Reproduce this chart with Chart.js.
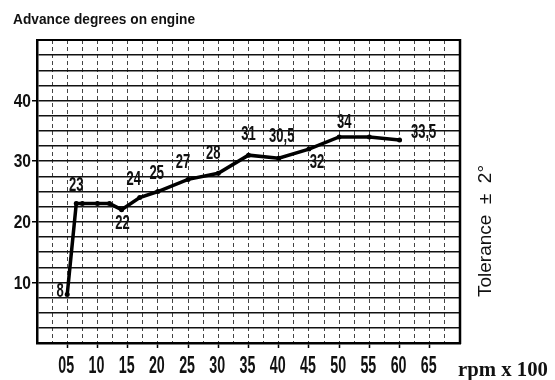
<!DOCTYPE html>
<html>
<head>
<meta charset="utf-8">
<title>Advance degrees on engine</title>
<script src="https://cdn.jsdelivr.net/npm/chart.js@4/dist/chart.umd.min.js"></script>
<style>
  html, body { margin: 0; padding: 0; background: #fff; }
  canvas { display: block; }
</style>
</head>
<body>
<canvas id="advance-chart" width="555" height="380"></canvas>
<script>
// engine speed (rpm x 100) and ignition advance in degrees
var rpm = [5, 6.5, 7.5, 10, 12, 14, 17, 20, 25, 30, 35, 40, 45, 50, 55, 60];
var degrees = [8, 23, 23, 23, 23, 22, 24, 25, 27, 28, 31, 30.5, 32, 34, 34, 33.5];
// points that have their value printed next to them
var printed = [true, true, false, false, false, true, true, true, true, true, true, true, true, true, false, true];
var rpmTicks = [5, 10, 15, 20, 25, 30, 35, 40, 45, 50, 55, 60, 65];
var degreeTicks = [10, 20, 30, 40];

var sans = '"Liberation Sans", Arial, sans-serif';

// where each printed value sits relative to its point (px)
var labelShift = [
    [-7, -3], [0, -18], [1, 14], [-6, -18], [-1, -18], [-5, -17],
    [-5, -20], [0, -21], [3, -22], [8, 13], [5, -15], [24, -8]
];

function formatDeg(v) {
    return String(v).replace(".", ",");
}

function rpmLabel(v) {
    return v < 10 ? "0" + v : String(v);
}

// the print uses a very condensed face, so squeeze text horizontally
function squeeze(ctx, text, x, y, sx) {
    ctx.save();
    ctx.translate(x, y);
    ctx.scale(sx, 1);
    ctx.fillText(text, 0, 0);
    ctx.restore();
}

function fitWidth(ctx, text, x, y, width) {
    squeeze(ctx, text, x, y, width / ctx.measureText(text).width);
}

var context = document.getElementById("advance-chart").getContext("2d");

var frame = {
    id: "frame",
    beforeDatasetsDraw: function (chart) {
        var ctx = chart.ctx;
        var a = chart.chartArea;
        ctx.save();
        ctx.strokeStyle = "#000";
        ctx.lineWidth = 2;
        ctx.beginPath();
        ctx.moveTo(a.left, a.top);
        ctx.lineTo(a.right, a.top);
        ctx.stroke();
        ctx.lineWidth = 2.5;
        ctx.beginPath();
        ctx.moveTo(a.right, a.top - 1);
        ctx.lineTo(a.right, a.bottom + 1);
        ctx.stroke();
        ctx.restore();
    },
};

var annotations = {
    id: "annotations",
    afterDatasetsDraw: function (chart) {
        var ctx = chart.ctx;
        var meta = chart.getDatasetMeta(0);
        var xs = chart.scales.x;
        var ys = chart.scales.y;
        var k = 0;

        ctx.save();
        ctx.fillStyle = "#111";
        ctx.textAlign = "center";
        ctx.textBaseline = "middle";

        // values printed along the curve
        ctx.font = "bold 21px " + sans;
        meta.data.forEach(function (pt, i) {
            if (!printed[i]) return;
            var shift = labelShift[k++];
            squeeze(ctx, formatDeg(degrees[i]), pt.x + shift[0], pt.y + shift[1], 0.62);
        });

        // axis numbers
        ctx.font = "bold 23px " + sans;
        rpmTicks.forEach(function (v) {
            squeeze(ctx, rpmLabel(v), xs.getPixelForValue(v) - 1, 367, 0.62);
        });
        ctx.textAlign = "right";
        ctx.font = "bold 19px " + sans;
        degreeTicks.forEach(function (v) {
            squeeze(ctx, String(v), 31, ys.getPixelForValue(v) + 1, 0.82);
        });

        // heading
        ctx.textAlign = "left";
        ctx.textBaseline = "alphabetic";
        ctx.font = "bold 15px " + sans;
        fitWidth(ctx, "Advance degrees on engine", 13, 24, 182);

        // unit on the x axis
        ctx.font = "bold 20px \"Liberation Serif\", \"Times New Roman\", serif";
        fitWidth(ctx, "rpm x 100", 458, 376, 90);

        // tolerance note along the right side
        ctx.translate(486, 297);
        ctx.rotate(-Math.PI / 2);
        ctx.textBaseline = "middle";
        ctx.font = "19px " + sans;
        fitWidth(ctx, "Tolerance  \u00b1  2\u00b0", 0, 0, 132);
        ctx.restore();
    },
};

var myChart = new Chart(context, {
    type: "line",
    data: {
        datasets: [
            {
                label: "advance",
                data: rpm.map(function (r, i) {
                    return { x: r, y: degrees[i] };
                }),
                borderColor: "#000",
                backgroundColor: "#000",
                borderWidth: 3.5,
                pointRadius: 2.5,
                pointBackgroundColor: "#000",
                pointBorderWidth: 0,
                tension: 0,
            },
        ],
    },
    options: {
        responsive: false,
        animation: false,
        devicePixelRatio: 1,
        layout: {
            padding: { top: 40, right: 95, left: 0, bottom: 0 },
        },
        plugins: {
            legend: { display: false },
            tooltip: { enabled: false },
        },
        scales: {
            x: {
                type: "linear",
                min: 0,
                max: 70,
                afterFit: function (scale) {
                    scale.height = 37;
                },
                ticks: {
                    stepSize: 2.5,
                    autoSkip: false,
                    display: false,
                },
                grid: {
                    color: "#444",
                    lineWidth: 1,
                    tickLength: 5,
                    tickColor: function (c) {
                        return c.tick && rpmTicks.indexOf(c.tick.value) >= 0 ? "#000" : "rgba(0,0,0,0)";
                    },
                    tickWidth: 1.5,
                },
                border: { color: "#000", width: 2.5, dash: [4, 3] },
            },
            y: {
                min: 0,
                max: 50,
                afterFit: function (scale) {
                    scale.width = 37;
                },
                ticks: {
                    stepSize: 2.5,
                    autoSkip: false,
                    display: false,
                },
                grid: {
                    color: "#111",
                    lineWidth: 1.5,
                    tickLength: 5,
                    tickColor: function (c) {
                        return c.tick && degreeTicks.indexOf(c.tick.value) >= 0 ? "#000" : "rgba(0,0,0,0)";
                    },
                    tickWidth: 1.5,
                },
                border: { color: "#000", width: 2.5 },
            },
        },
    },
    plugins: [frame, annotations],
});
</script>
</body>
</html>
